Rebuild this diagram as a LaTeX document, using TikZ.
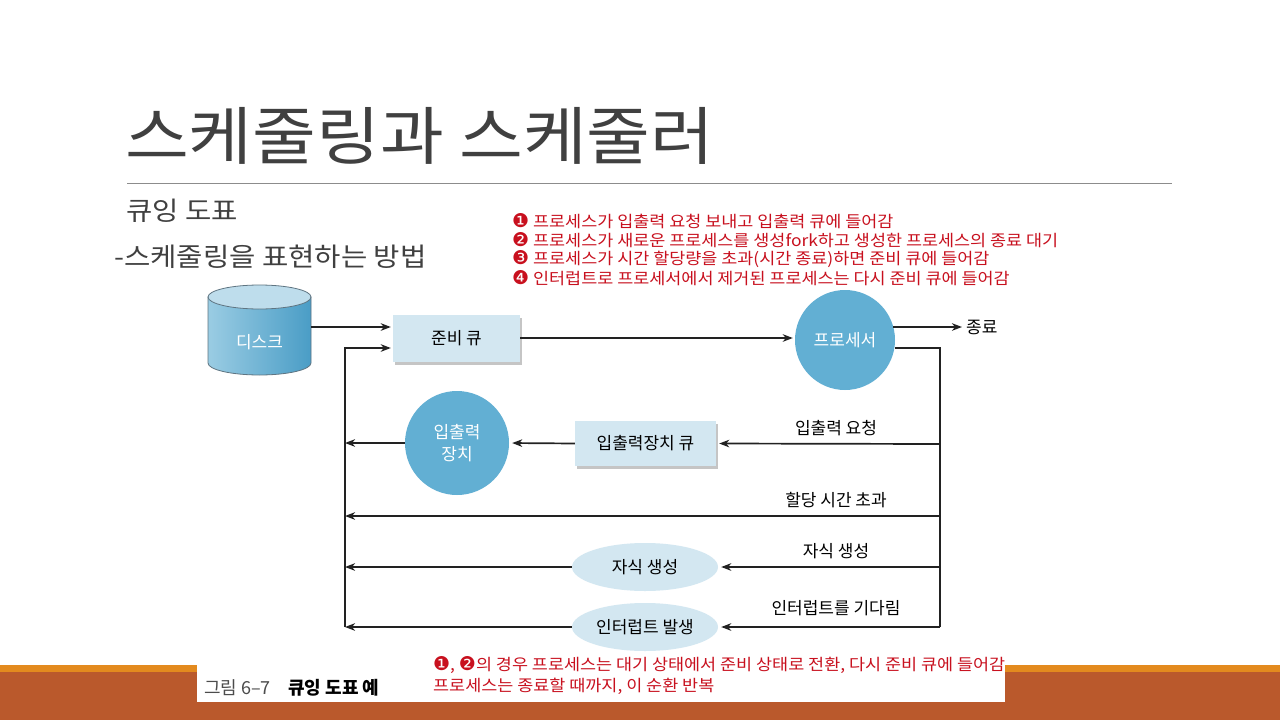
\documentclass[tikz,border=0pt]{standalone}
\usepackage{fontspec}
\setmainfont{Noto Sans CJK KR}
\newfontfamily\dejavu{DejaVu Sans}
\newfontfamily\notefont[FakeStretch=1.09]{Noto Sans CJK KR}
\newfontfamily\wideface[FakeStretch=1.1]{Noto Sans CJK KR}
\usetikzlibrary{shadows,arrows.meta,shapes.geometric}
\definecolor{titlegray}{HTML}{404040}
\definecolor{rulegray}{HTML}{8C8C8C}
\definecolor{notered}{HTML}{C8101E}
\definecolor{boxfill}{HTML}{D3E7F1}
\definecolor{ballfill}{HTML}{62AFD3}
\definecolor{diskL}{HTML}{9ACCE3}
\definecolor{diskR}{HTML}{4A9DC6}
\definecolor{diskTop}{HTML}{BEDDEC}
\definecolor{diskEdge}{HTML}{5F7582}
\definecolor{barorange}{HTML}{E38A1E}
\definecolor{barbrown}{HTML}{BA592C}
\definecolor{linecol}{HTML}{222222}
\newcommand{\cn}[1]{{\dejavu\fontsize{19}{18}\selectfont #1}}
\tikzset{
  arr/.style={draw=linecol, line width=1.7pt, -{Stealth[length=10pt,width=7.5pt,inset=3pt]}},
  plain/.style={draw=linecol, line width=1.7pt},
  qbox/.style={rectangle, fill=boxfill, inner sep=0pt,
    drop shadow={shadow xshift=2pt, shadow yshift=-3pt, fill=black!45, opacity=0.5},
    font=\fontsize{17}{20}\selectfont},
  ball/.style={circle, fill=ballfill, text=white, inner sep=0pt, align=center,
    font=\fontsize{17}{22}\selectfont},
  oval/.style={ellipse, fill=boxfill, inner sep=0pt, minimum width=146pt, minimum height=48pt,
    font=\fontsize{17}{20}\selectfont},
  lbl/.style={font=\fontsize{17}{20}\selectfont, text=black, inner sep=0pt},
  note/.style={font=\notefont\fontsize{16}{18}\selectfont, text=notered, anchor=west, inner sep=0pt},
}
\begin{document}
\begin{tikzpicture}[x=1pt,y=-1pt]
\useasboundingbox (0,0) rectangle (1280,720);
\fill[white] (0,0) rectangle (1280,720);
% bottom bars
\fill[barorange] (0,665) rectangle (1280,672);
\fill[barbrown] (0,672) rectangle (1280,720);
\fill[white] (197,650) rectangle (1005,702);
% title
\node[anchor=west, inner sep=0pt, text=titlegray, font=\wideface\fontsize{63}{70}\selectfont] (title) at (125,136) {스케줄링과 스케줄러};
\draw[rulegray, line width=1pt] (127,183) -- (1172,183);
\node[anchor=west, inner sep=0pt, text=titlegray, font=\wideface\fontsize{26}{30}\selectfont] (sub1) at (126,211) {큐잉 도표};
\node[anchor=west, inner sep=0pt, text=titlegray, font=\wideface\fontsize{26}{30}\selectfont] (sub2) at (114,257) {-스케줄링을 표현하는 방법};
% red notes
\node[note] (n1) at (512,221) {\cn{❶} 프로세스가 입출력 요청 보내고 입출력 큐에 들어감};
\node[note] (n2) at (512,240) {\cn{❷} 프로세스가 새로운 프로세스를 생성fork하고 생성한 프로세스의 종료 대기};
\node[note] (n3) at (512,259) {\cn{❸} 프로세스가 시간 할당량을 초과(시간 종료)하면 준비 큐에 들어감};
\node[note] (n4) at (512,278) {\cn{❹} 인터럽트로 프로세서에서 제거된 프로세스는 다시 준비 큐에 들어감};
% disk
\node[rectangle, minimum width=103pt, minimum height=90pt, inner sep=0pt] (disk) at (259.5,330) {};
\path[left color=diskL, right color=diskR, draw=diskEdge, line width=0.8pt]
  (208,297) -- (208,363) arc[start angle=180, end angle=0, x radius=51.5, y radius=12] -- (311,297) -- cycle;
\draw[fill=diskTop, draw=diskEdge, line width=0.8pt] (259.5,297) ellipse[x radius=51.5, y radius=12];
\node[text=white, font=\fontsize{17}{20}\selectfont] (disklbl) at (259.5,342) {디스크};
% main nodes
\node[qbox, minimum width=127pt, minimum height=47pt] (ready) at (456.5,338) {준비 큐};
\node[ball, minimum size=100pt] (proc) at (845,340) {프로세서};
\node[lbl, anchor=west] (exit) at (966,327) {종료};
\node[qbox, minimum width=141pt, minimum height=45pt] (ioq) at (645.5,443.5) {입출력장치 큐};
\node[ball, minimum size=104pt] (iodev) at (457,443) {입출력\\장치};
\node[oval] (child) at (645,567) {자식 생성};
\node[oval] (intr) at (645,627) {인터럽트 발생};
% coordinates
\coordinate (lt) at (345,348);
\coordinate (lb) at (345,627);
\coordinate (rt) at (940,348);
\coordinate (r1) at (940,444);
\coordinate (r2) at (940,516);
\coordinate (l2) at (345,516);
\coordinate (r3) at (940,567);
\coordinate (rb) at (940,627);
% connectors
\draw[arr, shorten >=2pt] ([yshift=3pt]disk.east) -- ([yshift=3pt]disk.east -| ready.west);
\draw[arr, shorten >=2pt] (lb) -- (lt) -- (lt -| ready.west);
\draw[arr, shorten >=2pt] (ready.east) -- (ready.east -| proc.west);
\draw[arr] (proc.15) -- ([xshift=-4pt]exit.west |- proc.15);
\draw[plain] (proc.-9) -- (proc.-9 -| rt) -- (rb);
\draw[arr, shorten >=3pt] (r1) -- (ioq.east);
\draw[arr, shorten >=3pt] (ioq.west) -- (iodev.east);
\draw[arr] (iodev.west) -- (iodev.west -| lt);
\draw[arr] (r2) -- (l2);
\draw[arr, shorten >=3pt] (r3) -- (child.east);
\draw[arr] (child.west) -- (child.west -| lt);
\draw[arr, shorten >=3pt] (rb) -- (intr.east);
\draw[arr] (intr.west) -- (lb);
% branch labels
\node[lbl] (t1) at (836,428) {입출력 요청};
\node[lbl] (t2) at (836,500) {할당 시간 초과};
\node[lbl] (t3) at (836,551) {자식 생성};
\node[lbl] (t4) at (836,608) {인터럽트를 기다림};
% caption
\node[anchor=west, inner sep=0pt, font=\fontsize{18}{20}\selectfont, text=black!70] (cap1) at (204,688) {그림 6–7};
\node[anchor=west, inner sep=0pt, font=\fontsize{18}{20}\bfseries\selectfont, text=black] (cap2) at (288,688) {큐잉 도표 예};
\node[note] (c1) at (433,665) {\cn{❶}, \cn{❷}의 경우 프로세스는 대기 상태에서 준비 상태로 전환, 다시 준비 큐에 들어감};
\node[note] (c2) at (433,686) {프로세스는 종료할 때까지, 이 순환 반복};
\end{tikzpicture}
\end{document}
